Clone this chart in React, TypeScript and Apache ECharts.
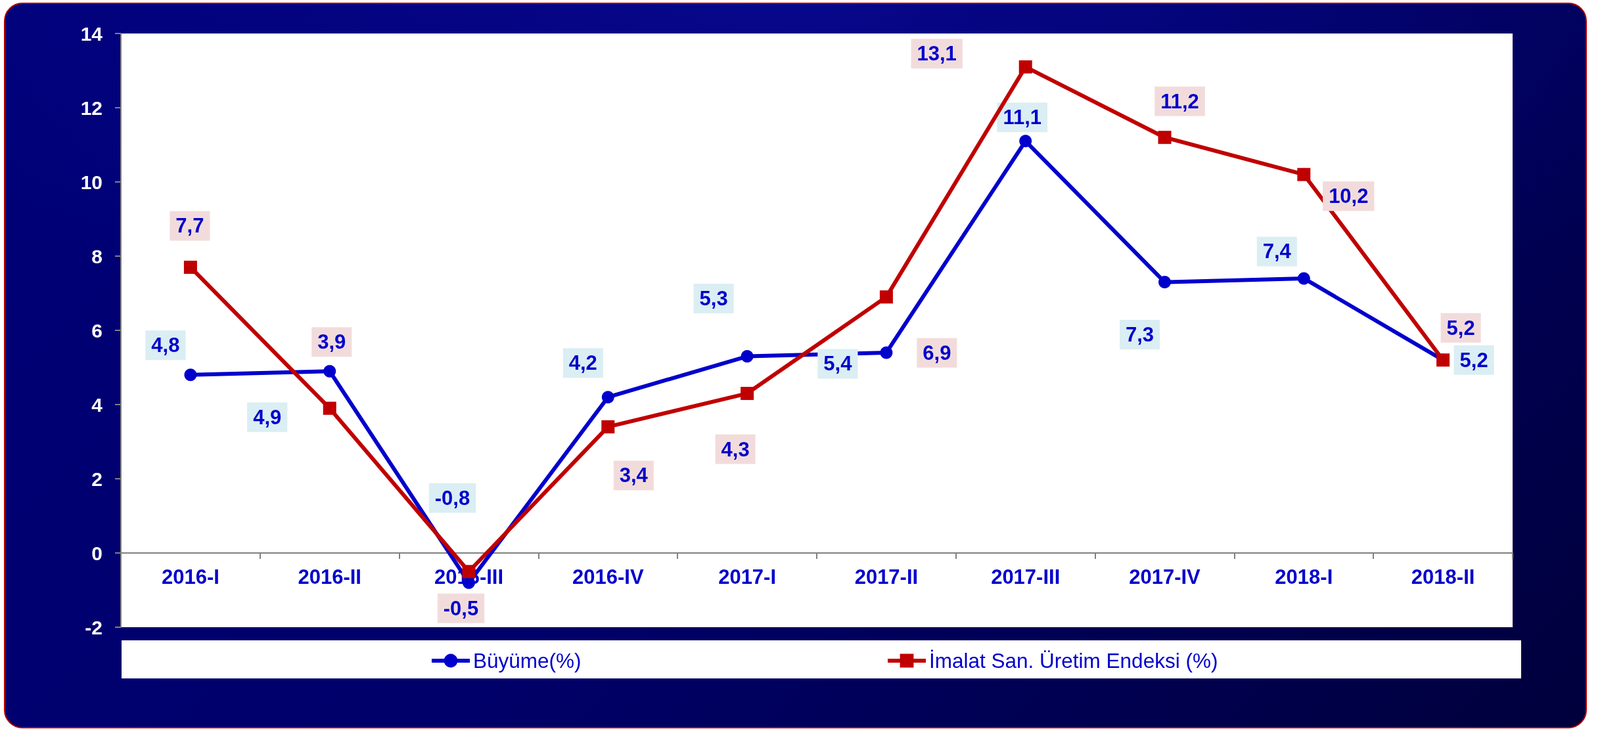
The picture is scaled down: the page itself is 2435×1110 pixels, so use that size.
import React, { useEffect, useRef } from "react";
import * as echarts from "echarts";

const categories = [
  "2016-I", "2016-II", "2016-III", "2016-IV", "2017-I",
  "2017-II", "2017-III", "2017-IV", "2018-I", "2018-II",
];
const buyumeName = "Büyüme(%)";
const imalatName = "İmalat San. Üretim Endeksi (%)";
const buyume = [4.8, 4.9, -0.8, 4.2, 5.3, 5.4, 11.1, 7.3, 7.4, 5.2];
const imalat = [7.7, 3.9, -0.5, 3.4, 4.3, 6.9, 13.1, 11.2, 10.2, 5.2];
const yMin = -2;
const yMax = 14;
const yStep = 2;

// label offsets (px) from each point, as placed in the original
const buyumeLabelOffsets = [
  [-38, -45], [-95, 70], [-25, -129], [-38, -52], [-51, -88],
  [-74, 17], [-5, -36], [-38, 80], [-41, -41], [47, 0],
];
const imalatLabelOffsets = [
  [-1, -63], [3, -101], [-12, 56], [39, 74], [-18, 85],
  [77, 85], [-135, -20], [23, -55], [68, 33], [27, -49],
];

const FONT = "'Liberation Sans', Arial, Helvetica, sans-serif";
const BLUE = "#0000CC";
const RED = "#C00000";

const GRID_TOP = 51;
const GRID_BOTTOM = 155;
const GRID_H = 1110 - GRID_TOP - GRID_BOTTOM;
// place the category axis on the zero line
const X_AXIS_OFFSET = -Math.round((GRID_H * (0 - yMin)) / (yMax - yMin));

const fmt = (p: any) => String(p.value).replace(".", ",");

export default function App() {
  const ref = useRef<HTMLDivElement>(null);

  useEffect(() => {
    if (!ref.current) return;
    const chart = echarts.init(ref.current, undefined, { renderer: "svg" });
    const labelBase = {
      show: true,
      position: "inside",
      formatter: fmt,
      color: BLUE,
      fontWeight: "bold",
      fontSize: 31,
      lineHeight: 31,
      fontFamily: FONT,
      padding: [7, 9, 7, 9],
    };
    const legendBase = {
      top: 990,
      padding: 0,
      itemGap: 0,
      itemWidth: 58,
      itemHeight: 26,
      lineStyle: { width: 6 },
      textStyle: { color: BLUE, fontSize: 31.5, fontFamily: FONT },
    };
    chart.setOption({
      animation: false,
      backgroundColor: "transparent",
      grid: {
        left: 184,
        right: 133,
        top: GRID_TOP,
        bottom: GRID_BOTTOM,
        show: true,
        backgroundColor: "#ffffff",
        borderWidth: 0,
      },
      legend: [
        { ...legendBase, left: 654, data: [buyumeName] },
        { ...legendBase, left: 1348, data: [imalatName] },
      ],
      xAxis: {
        type: "category",
        data: categories,
        boundaryGap: true,
        offset: X_AXIS_OFFSET,
        axisLine: { show: true, onZero: false, lineStyle: { color: "#808080", width: 2 } },
        axisTick: { show: true, length: 9, interval: 0, lineStyle: { color: "#808080", width: 2 } },
        axisLabel: {
          color: BLUE,
          fontWeight: "bold",
          fontSize: 31,
          fontFamily: FONT,
          margin: 21,
          interval: 0,
        },
        splitLine: { show: false },
      },
      yAxis: {
        type: "value",
        min: yMin,
        max: yMax,
        interval: yStep,
        axisLine: { show: true, lineStyle: { color: "#808080", width: 2 } },
        axisTick: { show: true, length: 9, lineStyle: { color: "#808080", width: 2 } },
        axisLabel: {
          color: "#ffffff",
          fontWeight: "bold",
          fontSize: 30,
          fontFamily: FONT,
          margin: 28,
        },
        splitLine: { show: false },
      },
      series: [
        {
          type: "line",
          name: buyumeName,
          data: buyume.map((v, i) => ({ value: v, label: { offset: buyumeLabelOffsets[i] } })),
          symbol: "circle",
          symbolSize: 19,
          lineStyle: { color: BLUE, width: 6 },
          itemStyle: { color: BLUE },
          label: { ...labelBase, backgroundColor: "#DAEEF3" },
          z: 2,
        },
        {
          type: "line",
          name: imalatName,
          data: imalat.map((v, i) => ({ value: v, label: { offset: imalatLabelOffsets[i] } })),
          symbol: "rect",
          symbolSize: 20,
          lineStyle: { color: RED, width: 6 },
          itemStyle: { color: RED },
          label: { ...labelBase, backgroundColor: "#F2DCDB" },
          z: 3,
        },
      ],
    });
    return () => chart.dispose();
  }, []);

  return (
    <>
      <div
        style={{
          position: "fixed",
          left: 6,
          top: 4,
          width: 2409,
          height: 1105,
          boxSizing: "border-box",
          border: "2px solid #B00000",
          borderRadius: 28,
          background:
            "radial-gradient(ellipse 60% 55% at 50% 0%, rgba(20,20,190,0.35), rgba(0,0,120,0) 100%), linear-gradient(135deg, #000078 0%, #00006a 50%, #00003c 100%)",
        }}
      />
      <div
        style={{
          position: "fixed",
          left: 185,
          top: 975,
          width: 2130,
          height: 58,
          background: "#ffffff",
        }}
      />
      <div
        ref={ref}
        style={{ position: "fixed", left: 0, top: 0, width: 2435, height: 1110 }}
      />
    </>
  );
}
